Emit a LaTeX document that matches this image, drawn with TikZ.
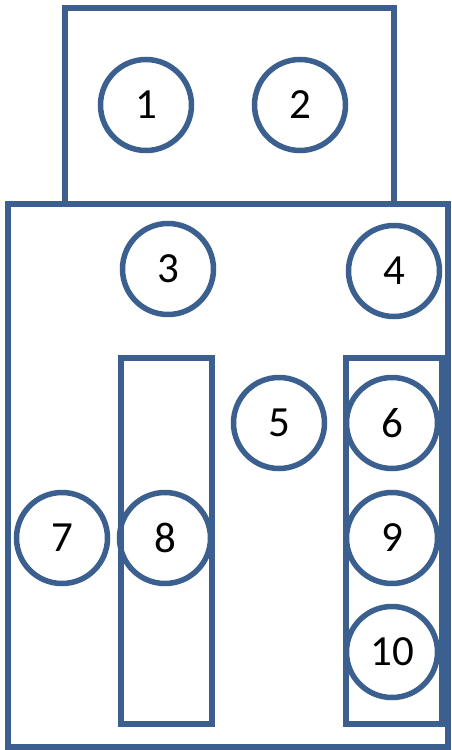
\documentclass[tikz,border=0pt]{standalone}
\usepackage{fontspec}
\setmainfont{Carlito}
\definecolor{edge}{HTML}{3B5F8E}
\begin{document}
\begin{tikzpicture}[x=1pt,y=-1pt,
  box/.style={draw=edge,line width=6pt},
  pin/.style={circle,draw=edge,line width=5.5pt,minimum size=91pt,inner sep=0pt,font=\fontsize{43}{43}\selectfont}]
\useasboundingbox (0,0) rectangle (452,750);
\draw[box] (64.5,7.5) rectangle (393.5,203.5);
\draw[box] (8,203.5) rectangle (447.5,747);
\draw[box] (121,358) rectangle (212,724);
\draw[box] (346,358) rectangle (442,724);
\node[pin] (n1) at (146,105) {1};
\node[pin] (n2) at (300,105) {2};
\node[pin] (n3) at (168,269) {3};
\node[pin] (n4) at (394,271) {4};
\node[pin] (n5) at (279,423) {5};
\node[pin] (n6) at (392,423) {6};
\node[pin] (n7) at (62,538) {7};
\node[pin] (n8) at (165,538) {8};
\node[pin] (n9) at (392,538) {9};
\node[pin] (n10) at (392,652) {10};
\end{tikzpicture}
\end{document}
